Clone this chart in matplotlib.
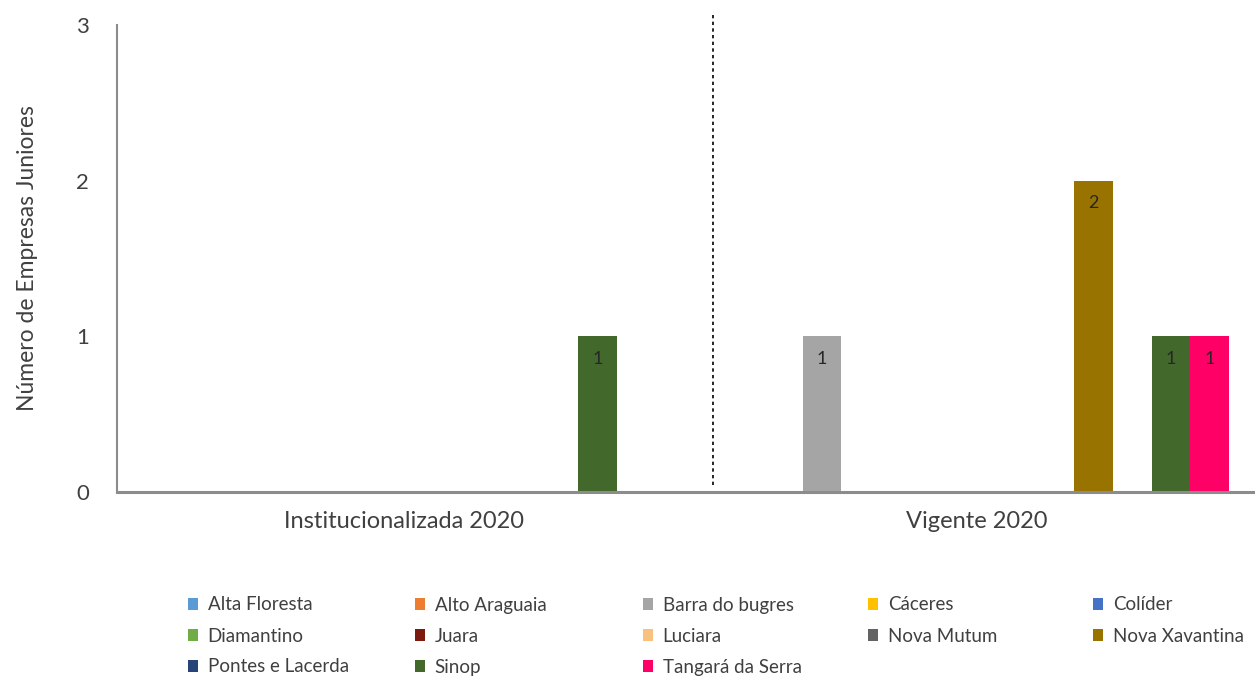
import numpy as np
import matplotlib as mtp
mtp.use("Agg")
import matplotlib.pyplot as plt

plt.rcParams['font.family'] = ['Lato', 'DejaVu Sans']

categorias = ["Institucionalizada 2020", "Vigente 2020"]
cidades = ["Alta Floresta", "Alto Araguaia", "Barra do bugres", "Cáceres", "Colíder",
           "Diamantino", "Juara", "Luciara", "Nova Mutum", "Nova Xavantina",
           "Pontes e Lacerda", "Sinop", "Tangará da Serra"]
cores = ["#5B9BD5", "#ED7D31", "#A5A5A5", "#FFC000", "#4472C4",
         "#70AD47", "#7B1A0E", "#F9C17E", "#636363", "#997300",
         "#264478", "#43682B", "#FF0066"]
# empresas por cidade: [institucionalizada, vigente]
empresas = {
    "Alta Floresta": [0, 0],
    "Alto Araguaia": [0, 0],
    "Barra do bugres": [0, 1],
    "Cáceres": [0, 0],
    "Colíder": [0, 0],
    "Diamantino": [0, 0],
    "Juara": [0, 0],
    "Luciara": [0, 0],
    "Nova Mutum": [0, 0],
    "Nova Xavantina": [0, 2],
    "Pontes e Lacerda": [0, 0],
    "Sinop": [1, 1],
    "Tangará da Serra": [0, 1],
}

fig = plt.figure(figsize=(12.55, 6.77), dpi=100)
ax = fig.add_axes([116.9 / 1255, 185 / 677, 1147 / 1255, 467 / 677])

x = np.arange(len(categorias))
largura = 0.0676
n = len(cidades)
barras = []
for i, cidade in enumerate(cidades):
    vals = empresas[cidade]
    pos = x + (i - (n - 1) / 2) * largura
    b = ax.bar(pos, vals, largura, color=cores[i], label=cidade)
    barras.append(b)
    rot = [str(v) if v > 0 else "" for v in vals]
    ax.bar_label(b, labels=rot, label_type='edge', padding=-22,
                 fontsize=13, color="#262626")

ax.set_xlim(-0.5, 1.5)
ax.set_ylim(0, 3)
ax.set_yticks([0, 1, 2, 3])
ax.set_xticks(x)
ax.set_xticklabels(categorias, fontsize=17, color="#404040")
ax.tick_params(axis='y', length=0, pad=20, labelsize=16, labelcolor="#404040")
ax.tick_params(axis='x', length=0, pad=14)
ax.set_ylabel("Número de Empresas Juniores", fontsize=16.5, color="#404040")
ax.yaxis.set_label_coords(-79 / 1147, 0.5)

for s in ["top", "right"]:
    ax.spines[s].set_visible(False)
ax.spines["left"].set_color("#8C8C8C")
ax.spines["left"].set_linewidth(1.5)
ax.spines["bottom"].set_color("#8C8C8C")
ax.spines["bottom"].set_linewidth(2.2)

# linha tracejada separando os grupos
ax.axvline(0.539, ymin=0.015, ymax=1.021, color="black", linestyle=(0, (2, 2)),
           linewidth=1.2, clip_on=False)

# legenda em 5 colunas de largura igual
col_x = [188, 415, 643, 868, 1093]
lin_y = [605, 636, 667]
for i, cidade in enumerate(cidades):
    lin, col = divmod(i, 5)
    fig.legend(handles=[barras[i]], labels=[cidade], loc='center left',
               bbox_to_anchor=(col_x[col] / 1255, 1 - lin_y[lin] / 677),
               frameon=False, fontsize=13.5, handlelength=0.55, handleheight=0.55,
               handletextpad=0.5, borderpad=0, borderaxespad=0,
               labelcolor="#404040")

plt.savefig("out.png", dpi=100)
